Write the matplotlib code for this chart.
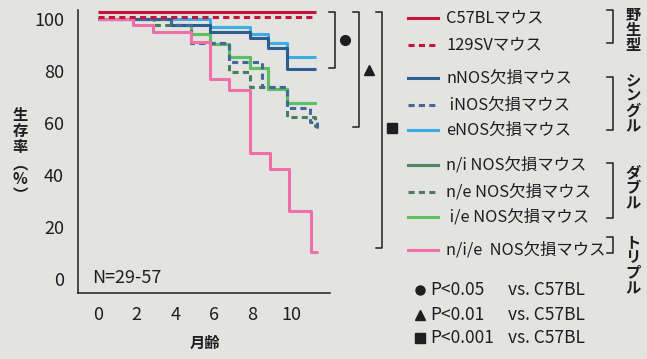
import matplotlib.pyplot as plt
from matplotlib.lines import Line2D

plt.rcParams['font.family'] = ['Noto Sans CJK JP', 'DejaVu Sans']

# survival curves: step times (months) and survival (%) after each step
c57_t = [0, 11.3]
c57_s = [100, 100]
sv129_t = [0, 11.3]
sv129_s = [100, 100]
nnos_t = [0, 3.8, 5.8, 7.85, 8.8, 9.8, 11.3]
nnos_s = [100, 97.8, 95, 93, 88.8, 81, 81]
inos_t = [0, 3.8, 4.8, 6.8, 8.5, 9.8, 10.95, 11.35, 11.4]
inos_s = [100, 97.8, 90.8, 83.7, 73.8, 65.8, 60.5, 57.5, 57.5]
enos_t = [0, 5.8, 7.85, 8.8, 9.8, 11.3]
enos_s = [100, 97.2, 94.2, 90.8, 85.6, 85.6]
ni_t = [0, 3.8, 4.8, 5.8, 6.8, 7.85, 8.8, 9.8, 11.3]
ni_s = [100, 97.8, 94.5, 90.5, 85.4, 81.2, 73.1, 67.9, 67.9]
ne_t = [0, 2.9, 4.8, 6.8, 7.85, 9.8, 11.2, 11.3]
ne_s = [100, 97.8, 90.8, 79.8, 73.8, 62.5, 59, 59]
ie_t = [0, 3.8, 4.8, 5.8, 6.8, 7.85, 8.8, 9.8, 11.3]
ie_s = [100, 97.8, 94.5, 90.5, 85.4, 81.2, 73.1, 67.9, 67.9]
nie_t = [0, 1.8, 2.85, 4.8, 5.8, 6.8, 7.85, 8.9, 9.9, 11.0, 11.4]
nie_s = [100, 98, 95, 91.4, 77, 72.8, 48.5, 42.4, 26.4, 10.6, 10.6]

labels = ['C57BLマウス', '129SVマウス', 'nNOS欠損マウス', ' iNOS欠損マウス', 'eNOS欠損マウス',
          'n/i NOS欠損マウス', 'n/e NOS欠損マウス', ' i/e NOS欠損マウス', 'n/i/e  NOS欠損マウス']
groups = ['野\n生\n型', 'シ\nン\nグ\nル', 'ダ\nブ\nル', 'ト\nリ\nプ\nル']
pvals = ['P<0.05', 'P<0.01', 'P<0.001']
xticks = [0, 2, 4, 6, 8, 10]
yticks = [0, 20, 40, 60, 80, 100]

bg = '#e3e3e1'
ink = '#1e1e1e'
red = '#c4143a'
dblue = '#2d5d91'
dblue2 = '#45689a'
lblue = '#3badE2'
dgreen = '#4f8a5c'
dgreen2 = '#4b7d5a'
lgreen = '#5cc160'
pink = '#ef6fa9'

W, H = 647, 359
fig = plt.figure(figsize=(W / 100, H / 100), dpi=100, facecolor=bg)
ax = fig.add_axes([78 / W, 1 - 293 / H, 252 / W, 283 / H])
ax.set_facecolor(bg)

dash = (0, (2.0, 1.4))
series = [
    (ni_t, ni_s, dgreen, '-', 0),
    (ie_t, ie_s, lgreen, '-', 0),
    (enos_t, enos_s, lblue, '-', 0),
    (nnos_t, nnos_s, dblue, '-', 0),
    (ne_t, ne_s, dgreen2, dash, 0),
    (inos_t, inos_s, dblue2, dash, 0),
    (nie_t, nie_s, pink, '-', 0),
    (sv129_t, sv129_s, red, dash, 0.8),
    (c57_t, c57_s, red, '-', 2.7),
]
for t, s, c, ls, off in series:
    ax.step(t, [v + off for v in s], where='post', color=c, lw=2.2, ls=ls,
            solid_capstyle='butt')

ax.set_xlim(-1.03, 12.0)
ax.set_ylim(-5.3, 103.6)
ax.set_xticks(xticks)
ax.set_yticks(yticks)
ax.tick_params(length=0, labelsize=13, colors=ink, pad=9)
ax.tick_params(axis='y', pad=10)
for sp in ['top', 'right']:
    ax.spines[sp].set_visible(False)
for sp in ['left', 'bottom']:
    ax.spines[sp].set_color(ink)
    ax.spines[sp].set_linewidth(1.1)
ax.text(-0.3, 0.5, 'N=29-57', fontsize=13, color=ink, va='center')

fig.text(205 / W, 1 - 343 / H, '月齢', fontsize=11, fontweight='bold',
         color=ink, ha='center', va='center')
fig.text(20 / W, 1 - 155 / H, '生\n存\n率\n︵\n%\n︶', fontsize=11,
         fontweight='bold', color=ink, ha='center', va='center', linespacing=1.0)


def px(x, y):
    return x / W, 1 - y / H


def fline(xs, ys, **kw):
    fx = [x / W for x in xs]
    fy = [1 - y / H for y in ys]
    fig.add_artist(Line2D(fx, fy, **kw))


# legend
row_y = [18, 45, 78, 105, 130, 165, 192, 217, 250]
styles = [(red, '-'), (red, dash), (dblue, '-'), (dblue2, dash), (lblue, '-'),
          (dgreen, '-'), (dgreen2, dash), (lgreen, '-'), (pink, '-')]
for y, lab, (c, ls) in zip(row_y, labels, styles):
    fline([408, 438], [y, y], color=c, lw=2.2, ls=ls)
    fig.text(*px(446, y), lab, fontsize=11.8, color=ink, va='center')

# significance rows
p_y = [290, 315, 338]
marks = ['o', '^', 's']
for y, p, m in zip(p_y, pvals, marks):
    fline([420], [y], marker=m, color=ink, ms=6.5, ls='none')
    fig.text(*px(430, y), p, fontsize=12.5, color=ink, va='center')
    fig.text(*px(508, y), 'vs. C57BL', fontsize=12.5, color=ink, va='center')

# group brackets on the right
brackets = [(10, 43), (77, 130), (163, 218), (237, 253)]
label_y = [30, 103, 188, 265]
for (y0, y1), g, ly in zip(brackets, groups, label_y):
    fline([607, 613, 613, 607], [y0, y0, y1, y1], color=ink, lw=1.1)
    fig.text(*px(633, ly), g, fontsize=11, fontweight='bold', color=ink,
             ha='center', va='center', linespacing=0.95)

# significance brackets between plot and legend
sig = [(335, 12, 68, 345, 40), (359, 12, 127, 369, 70), (382, 12, 248, 392, 128)]
for (x, y0, y1, mx, my), m in zip(sig, marks):
    fline([x - 6, x, x, x - 6], [y0, y0, y1, y1], color=ink, lw=1.1)
    fline([mx], [my], marker=m, color=ink, ms=7, ls='none')

fig.savefig('out.png', dpi=100, facecolor=bg)
